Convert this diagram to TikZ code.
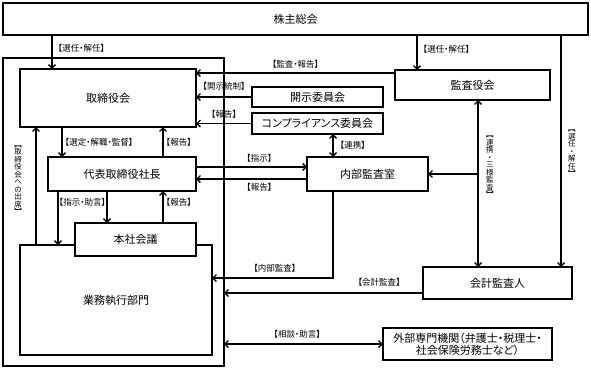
\documentclass[tikz,border=0pt]{standalone}
\usepackage{fontspec}
\setmainfont[RawFeature=+palt]{Noto Sans CJK JP}
\usetikzlibrary{arrows.meta,positioning}

\begin{document}
\begin{tikzpicture}[
            x=1pt, y=-1pt,
            every node/.style={inner sep=0pt, outer sep=0pt},
            box/.style={draw, line width=1.8pt, fill=white, font=\fontsize{11}{13}\selectfont, align=center},
            lbl/.style={font=\fontsize{8.5}{9}\selectfont, inner sep=1pt},
            vlbl/.style={font=\fontsize{7.5}{7.5}\selectfont, align=center, inner sep=1pt},
            arr/.style={line width=1.3pt, -{Straight Barb[length=3.5pt,width=7pt]}},
            darr/.style={line width=1.3pt, {Straight Barb[length=3.5pt,width=7pt]}-{Straight Barb[length=3.5pt,width=7pt]}},
        ]
            \useasboundingbox (0,0) rectangle (591,370);

            \node[draw, line width=1.8pt, minimum width=221pt, minimum height=308pt] (frame) at (113.5,212) {};
            \node[box, minimum width=585pt, minimum height=32pt] (soukai) at (295.5,19) {株主総会};
            \node[box, minimum width=176pt, minimum height=58pt] (torishimari) at (108,98) {取締役会};
            \node[box, minimum width=148pt, minimum height=34pt] (shacho) at (122,174) {代表取締役社長};
            \node[box, minimum width=192pt, minimum height=110pt] (gyomu) at (116,300) {業務執行部門};
            \node[box, minimum width=121pt, minimum height=33pt] (honsha) at (135.5,239.5) {本社会議};
            \node[box, minimum width=155pt, minimum height=30pt] (kansayaku) at (472.5,85) {監査役会};
            \node[box, minimum width=131pt, minimum height=20pt] (kaiji) at (317.5,97) {開示委員会};
            \node[box, minimum width=131pt, minimum height=21pt] (comp) at (317.5,123.5) {コンプライアンス委員会};
            \node[box, minimum width=121pt, minimum height=34pt] (naibu) at (367.5,174) {内部監査室};
            \node[box, minimum width=149pt, minimum height=32pt] (kaikei) at (497.5,283) {会計監査人};
            \node[box, minimum width=169pt, minimum height=32pt, font=\fontsize{11}{12}\selectfont] (gaibu) at (467.5,344) {外部専門機関（弁護士・税理士・\\社会保険労務士など）};

            \coordinate (xsen) at (52,0);
            \coordinate (xkan) at (417,0);
            \coordinate (xkai) at (561,0);
            \coordinate (xsentei) at (62,0);
            \coordinate (xhoukoku) at (163,0);
            \coordinate (xshiji) at (107,0);
            \coordinate (xgyomu) at (58,0);
            \coordinate (xshusseki) at (36,0);
            \coordinate (xrenkei) at (333,0);
            \coordinate (xsanyo) at (478,0);
            \coordinate (ykansa) at (0,73);
            \coordinate (yshiji) at (0,167);
            \coordinate (yhoukoku) at (0,179);
            \coordinate (ynaibu) at (0,278);
            \coordinate (ykaikei) at (0,293);

            \draw[arr] (soukai.south -| xsen) -- node[lbl, right=5pt, pos=0.4] {【選任・解任】} (torishimari.north -| xsen);
            \draw[arr] (soukai.south -| xkan) -- node[lbl, right=5pt, pos=0.4] {【選任・解任】} (kansayaku.north -| xkan);
            \draw[arr] (soukai.south -| xkai) -- node[vlbl, right=6pt, pos=0.51] {︻\\選\\任\\・\\解\\任\\︼} (kaikei.north -| xkai);
            \draw[arr] (kansayaku.west |- ykansa) -- node[lbl, above=3.5pt] {【監査・報告】} (torishimari.east |- ykansa);
            \draw[arr] (kaiji.west) -- node[lbl, above=5.5pt] {【開示統制】} (torishimari.east |- kaiji.west);
            \draw[arr] (comp.west) -- node[lbl, above=4.5pt] {【報告】} (torishimari.east |- comp.west);
            \draw[arr] (torishimari.south -| xsentei) -- node[lbl, right=2pt] {【選定・解職・監督】} (shacho.north -| xsentei);
            \draw[arr] (shacho.north -| xhoukoku) -- node[lbl, right=2pt] {【報告】} (torishimari.south -| xhoukoku);
            \draw[arr] (shacho.south -| xgyomu) -- node[lbl, right=0pt, pos=0.2] {【指示・助言】} (gyomu.north -| xgyomu);
            \draw[arr] (shacho.south -| xshiji) -- (honsha.north -| xshiji);
            \draw[arr] (honsha.north -| xhoukoku) -- node[lbl, right=2pt, pos=0.66] {【報告】} (shacho.south -| xhoukoku);
            \draw[arr] (gyomu.north -| xshusseki) -- node[vlbl, left=13pt, pos=0.55] {︻\\取\\締\\役\\会\\へ\\の\\出\\席\\︼} (torishimari.south -| xshusseki);
            \draw[arr] (shacho.east |- yshiji) -- node[lbl, above=3.5pt, pos=0.57] {【指示】} (naibu.west |- yshiji);
            \draw[arr] (naibu.west |- yhoukoku) -- node[lbl, below=3.5pt, pos=0.43] {【報告】} (shacho.east |- yhoukoku);
            \draw[darr] (comp.south -| xrenkei) -- node[lbl, right=6pt] {【連携】} (naibu.north -| xrenkei);
            \draw[darr] (kansayaku.south -| xsanyo) -- node[vlbl, right=7pt, pos=0.4] {︻\\連\\携\\・\\三\\様\\監\\査\\︼} (kaikei.north -| xsanyo);
            \draw[arr] (naibu.east -| xsanyo) -- (naibu.east);
            \draw[arr] (naibu.south -| xrenkei) |- node[lbl, above=4.5pt, pos=0.74] {【内部監査】} (gyomu.east |- ynaibu);
            \draw[arr] (kaikei.west |- ykaikei) -- node[lbl, above=5.5pt, pos=0.22] {【会計監査】} (frame.east |- ykaikei);
            \draw[darr] (frame.east |- gaibu.west) -- node[lbl, above=4.5pt, pos=0.46] {【相談・助言】} (gaibu.west);
        \end{tikzpicture}
\end{document}
